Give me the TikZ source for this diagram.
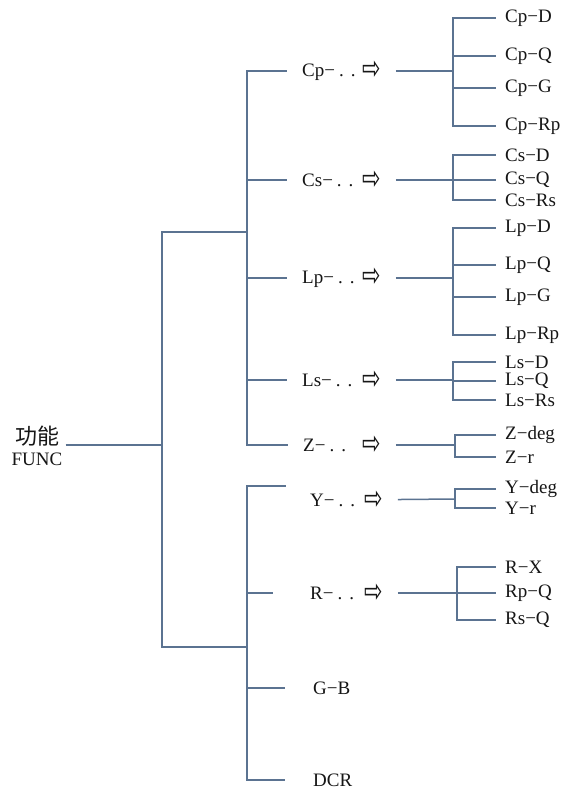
\documentclass[tikz,border=0pt]{standalone}
\usepackage{graphicx}
\usepackage{fontspec}
\setmainfont{Liberation Serif}
\newfontfamily\symfnt{DejaVu Sans}
\newfontfamily\cjkfnt{Noto Sans CJK SC}
\usetikzlibrary{positioning,calc}
\definecolor{treeLine}{HTML}{5B7391}
\definecolor{treeText}{HTML}{161616}
\newcommand{\arr}{\raisebox{-3pt}{\scalebox{1.0}[1.5]{\symfnt\fontsize{22}{22}\selectfont ⇨}}}
\newcommand{\grplab}[2]{\makebox[#1][l]{#2}\arr}

\begin{document}
\begin{tikzpicture}[x=1pt,y=-1pt,
    br/.style={draw=treeLine,line width=1.5pt},
    grp/.style={anchor=west,inner xsep=15pt,inner ysep=2pt,text=treeText,
                font=\fontsize{19}{20}\selectfont},
    leaf/.style={anchor=west,inner xsep=9pt,inner ysep=1pt,text=treeText,
                 font=\fontsize{19}{20}\selectfont},
    plain/.style={anchor=west,inner xsep=15pt,text=treeText,
                  font=\fontsize{19}{20}\selectfont}]
    \useasboundingbox[fill=white] (0,0) rectangle (572,790);
    \node[align=center,text=treeText,inner xsep=3pt,inner ysep=0pt] (func) at (37,446)
        {{\cjkfnt\fontsize{22}{24}\selectfont 功能}\\[5pt]{\fontsize{19}{20}\selectfont FUNC}};
    \coordinate (m) at (162,445);
    \coordinate (ua) at (247,232);
    \coordinate (la) at (247,647);
    \draw[br] (func.east |- m) -- (m);
    \draw[br] (m) |- (ua);
    \draw[br] (m) |- (la);

    \node[grp] (Cp) at (287,71) {\grplab{60pt}{Cp−\kern4pt.\kern7pt.}};
    \node[grp] (Cs) at (287,180) {\grplab{60pt}{Cs−\kern4pt.\kern7pt.}};
    \node[grp] (Lp) at (287,278) {\grplab{60pt}{Lp−\kern4pt.\kern7pt.}};
    \node[grp] (Ls) at (287,380) {\grplab{60pt}{Ls−\kern4pt.\kern7pt.}};
    \node[grp] (Z) at (288,445) {\grplab{59pt}{Z−\kern4pt.\kern7pt.}};
    \node[grp] (Y) at (295,500) {\grplab{54pt}{Y−\kern4pt.\kern7pt.}};
    \node[grp] (R) at (295,593) {\grplab{54pt}{R−\kern4pt.\kern7pt.}};
    \node[plain] (GB) at (298,688) {G−B};
    \node[plain] (DCR) at (298,780) {DCR};

    \foreach \g in {Cp,Cs,Lp,Ls,Z}{\draw[br] (ua) |- (\g);}
    \coordinate (ya) at (286,486);
    \draw[br] (la) |- (ya);
    \draw[br,shorten >=22pt] (la) |- (R);
    \draw[br,shorten >=13pt] (la) |- (GB);
    \draw[br,shorten >=13pt] (la) |- (DCR);

    \coordinate (cpj) at (453,71);
    \coordinate (csj) at (453,180);
    \coordinate (lpj) at (453,278);
    \coordinate (lsj) at (453,380);
    \coordinate (zj) at (455,445);
    \coordinate (yj) at (455,499);
    \coordinate (rj) at (457,593);
    \foreach \g/\j in {Cp/cpj,Cs/csj,Lp/lpj,Ls/lsj,Z/zj,Y/yj,R/rj}{\draw[br] (\g) -- (\j);}

    \foreach \j/\n/\y/\t in {cpj/CpD/18/Cp−D, cpj/CpQ/56/Cp−Q, cpj/CpG/88/Cp−G, cpj/CpRp/126/Cp−Rp,
        csj/CsD/155/Cs−D, csj/CsQ/180/Cs−Q, csj/CsRs/200/Cs−Rs,
        lpj/LpD/228/Lp−D, lpj/LpQ/265/Lp−Q, lpj/LpG/297/Lp−G, lpj/LpRp/335/Lp−Rp,
        lsj/LsD/362/Ls−D, lsj/LsQ/381/Ls−Q, lsj/LsRs/400/Ls−Rs,
        zj/Zdeg/435/Z−deg, zj/Zr/457/Z−r,
        yj/Ydeg/489/Y−deg, yj/Yr/508/Y−r,
        rj/RX/567/R−X, rj/RpQ/593/Rp−Q, rj/RsQ/620/Rs−Q}{
        \node[leaf] (\n) at (496,\y) {\t};
        \draw[br] (\j) |- (\n);
    }
\end{tikzpicture}
\end{document}
